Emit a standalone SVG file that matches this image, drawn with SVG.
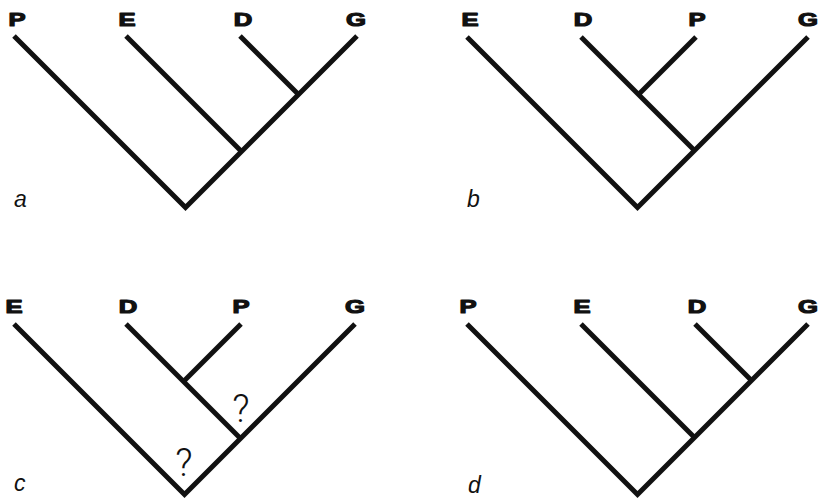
<svg xmlns="http://www.w3.org/2000/svg" width="820" height="499" viewBox="0 0 820 499">
<style>
.bg{fill:#ffffff}
.br{fill:none;stroke:#111;stroke-width:5;stroke-linecap:butt;stroke-linejoin:miter}
.tx{font-family:"Liberation Sans",Arial,sans-serif;font-weight:bold;font-size:19px;fill:#111;stroke:#111;stroke-width:1.2;stroke-linejoin:round;text-anchor:middle}
.pl{font-family:"Liberation Sans",Arial,sans-serif;font-style:italic;font-size:23px;fill:#111}
.q{font-family:Roboto,"Liberation Sans",sans-serif;font-weight:300;font-size:38px;fill:#111;text-anchor:middle}
</style>
<rect class="bg" width="820" height="499"/>

<!-- Panel a -->
<g id="panel-a">
  <g id="a-connectors">
    <path class="br" d="M14,36 L185.5,207.5 L357,36"/>
    <path class="br" d="M126,36 L241.5,151.5"/>
    <path class="br" d="M240,36 L298.5,94.5"/>
  </g>
  <g id="a-P"><text class="tx" transform="translate(17,26) scale(1.35,1)">P</text></g>
  <g id="a-E"><text class="tx" transform="translate(127,26) scale(1.35,1)">E</text></g>
  <g id="a-D"><text class="tx" transform="translate(243,26) scale(1.35,1)">D</text></g>
  <g id="a-G"><text class="tx" transform="translate(356,26) scale(1.35,1)">G</text></g>
  <text class="pl" x="14" y="207">a</text>
</g>

<!-- Panel b -->
<g id="panel-b">
  <g id="b-connectors">
    <path class="br" d="M467,37 L637.5,207.5 L808,37"/>
    <path class="br" d="M581,37 L694.5,150.5"/>
    <path class="br" d="M696,37 L638.5,94.5"/>
  </g>
  <g id="b-E"><text class="tx" transform="translate(470,26) scale(1.35,1)">E</text></g>
  <g id="b-D"><text class="tx" transform="translate(583,26) scale(1.35,1)">D</text></g>
  <g id="b-P"><text class="tx" transform="translate(697,26) scale(1.35,1)">P</text></g>
  <g id="b-G"><text class="tx" transform="translate(808,26) scale(1.35,1)">G</text></g>
  <text class="pl" x="467" y="207">b</text>
</g>

<!-- Panel c -->
<g id="panel-c">
  <g id="c-connectors">
    <path class="br" d="M14,324 L184.5,494.5 L355,324"/>
    <path class="br" d="M126,324 L240.5,438.5"/>
    <path class="br" d="M241,324 L183.5,381.5"/>
  </g>
  <g id="c-E"><text class="tx" transform="translate(14,313) scale(1.35,1)">E</text></g>
  <g id="c-D"><text class="tx" transform="translate(128,313) scale(1.35,1)">D</text></g>
  <g id="c-P"><text class="tx" transform="translate(241,313) scale(1.35,1)">P</text></g>
  <g id="c-G"><text class="tx" transform="translate(355,313) scale(1.35,1)">G</text></g>
  <text class="q" x="241" y="422">?</text>
  <text class="q" x="184" y="476">?</text>
  <text class="pl" x="14" y="491">c</text>
</g>

<!-- Panel d -->
<g id="panel-d">
  <g id="d-connectors">
    <path class="br" d="M467,324 L637.5,494.5 L808,324"/>
    <path class="br" d="M581,324 L694.5,437.5"/>
    <path class="br" d="M695,324 L751.5,380.5"/>
  </g>
  <g id="d-P"><text class="tx" transform="translate(468,313) scale(1.35,1)">P</text></g>
  <g id="d-E"><text class="tx" transform="translate(582,313) scale(1.35,1)">E</text></g>
  <g id="d-D"><text class="tx" transform="translate(697,313) scale(1.35,1)">D</text></g>
  <g id="d-G"><text class="tx" transform="translate(808,313) scale(1.35,1)">G</text></g>
  <text class="pl" x="468" y="493">d</text>
</g>
</svg>
